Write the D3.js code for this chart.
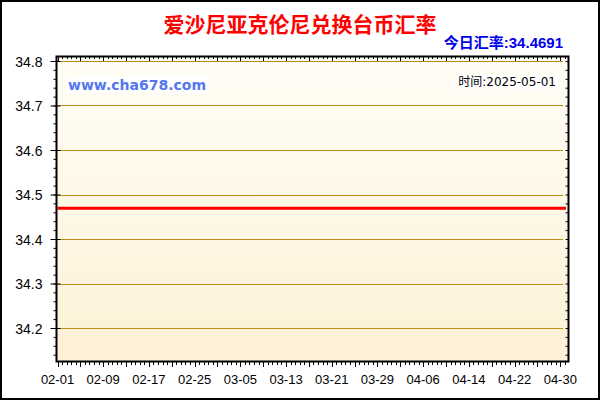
<!DOCTYPE html>
<html>
  <head>
    <meta charset="utf-8">
    <title>爱沙尼亚克伦尼兑换台币汇率</title>
    <script src="https://d3js.org/d3.v7.min.js"></script>
    <style type="text/css">
      body { margin: 0; background: #fff; }
    </style>
  </head>
  <body>
    <script>
        // Chart data: one rate per day, 02-01 .. 05-01
        var startDay = "2025-02-01";
        var rates = [
            34.4691, 34.4691, 34.4691, 34.4691, 34.4691, 34.4691, 34.4691, 34.4691, 34.4691, 34.4691,
            34.4691, 34.4691, 34.4691, 34.4691, 34.4691, 34.4691, 34.4691, 34.4691, 34.4691, 34.4691,
            34.4691, 34.4691, 34.4691, 34.4691, 34.4691, 34.4691, 34.4691, 34.4691, 34.4691, 34.4691,
            34.4691, 34.4691, 34.4691, 34.4691, 34.4691, 34.4691, 34.4691, 34.4691, 34.4691, 34.4691,
            34.4691, 34.4691, 34.4691, 34.4691, 34.4691, 34.4691, 34.4691, 34.4691, 34.4691, 34.4691,
            34.4691, 34.4691, 34.4691, 34.4691, 34.4691, 34.4691, 34.4691, 34.4691, 34.4691, 34.4691,
            34.4691, 34.4691, 34.4691, 34.4691, 34.4691, 34.4691, 34.4691, 34.4691, 34.4691, 34.4691,
            34.4691, 34.4691, 34.4691, 34.4691, 34.4691, 34.4691, 34.4691, 34.4691, 34.4691, 34.4691,
            34.4691, 34.4691, 34.4691, 34.4691, 34.4691, 34.4691, 34.4691, 34.4691, 34.4691, 34.4691
        ];
        var yTickValues = [34.2, 34.3, 34.4, 34.5, 34.6, 34.7, 34.8];
        var xTickLabels = ["02-01", "02-09", "02-17", "02-25", "03-05", "03-13",
                           "03-21", "03-29", "04-06", "04-14", "04-22", "04-30"];
        var titleText = "爱沙尼亚克伦尼兑换台币汇率";
        var todayText = "今日汇率:34.4691";
        var siteText = "www.cha678.com";
        var timeText = "时间:2025-05-01";

        // Layout
        var svgWidth = 600;
        var svgHeight = 400;
        var plotLeft = 56;
        var plotRight = 568;
        var plotTop = 56;
        var plotBottom = 361;
        var dayMs = 24 * 3600 * 1000;
        var sansFont = "'Liberation Sans', Arial, sans-serif";

        var parseDay = d3.timeParse("%Y-%m-%d");
        var firstDay = parseDay(startDay);
        var data = rates.map(function(r, i) {
            return {date: new Date(firstDay.getTime() + i * dayMs), value: r};
        });

        var svg = d3.select("body")
                    .append("svg")
                    .attr("width", svgWidth)
                    .attr("height", svgHeight);

        var xScale = d3.scaleTime()
                       .domain([data[0].date, data[data.length - 1].date])
                       .range([57.5, 566]);

        var yScale = d3.scaleLinear()
                       .domain([34.2, 34.8])
                       .range([328, 61]);

        // Plot background
        var grad = svg.append("defs").append("linearGradient")
                      .attr("id", "bg")
                      .attr("x1", 0).attr("y1", 0).attr("x2", 0).attr("y2", 1);
        grad.append("stop").attr("offset", "0%").attr("stop-color", "#fffef6");
        grad.append("stop").attr("offset", "100%").attr("stop-color", "#fdf1d6");

        svg.append("rect")
           .attr("x", plotLeft)
           .attr("y", plotTop)
           .attr("width", plotRight - plotLeft)
           .attr("height", plotBottom - plotTop)
           .attr("fill", "url(#bg)");

        // Grid lines
        svg.selectAll(".grid")
           .data(yTickValues)
           .enter()
           .append("line")
           .attr("class", "grid")
           .attr("x1", plotLeft + 1)
           .attr("x2", plotRight - 5)
           .attr("y1", function(d) { return Math.round(yScale(d)) + 0.5; })
           .attr("y2", function(d) { return Math.round(yScale(d)) + 0.5; })
           .attr("stroke", "#bf8e18")
           .attr("stroke-width", 1);

        // Rate line
        var line = d3.line()
                     .x(function(d) { return xScale(d.date); })
                     .y(function(d) { return yScale(d.value); });

        svg.append("path")
           .datum(data)
           .attr("d", line)
           .attr("fill", "none")
           .attr("stroke", "#ff0000")
           .attr("stroke-width", 3);

        // Tick positions
        var yMinor = d3.range(34.14, 34.81, 0.02);
        var xMajorDays = d3.range(0, 89, 4);
        var xMinorDays = d3.range(0, 89.5, 0.8);
        var dayX = function(n) { return xScale(new Date(firstDay.getTime() + n * dayMs)); };

        // Left axis
        var leftMinor = d3.axisLeft(yScale).tickValues(yMinor).tickSize(3).tickFormat("");
        svg.append("g")
           .attr("transform", "translate(" + (plotLeft + 0.5) + ",0)")
           .call(leftMinor)
           .call(function(g) { g.select(".domain").remove(); });

        var leftAxis = d3.axisLeft(yScale)
                         .tickValues(yTickValues)
                         .tickSize(6)
                         .tickPadding(8)
                         .tickFormat(d3.format(".1f"));
        var leftG = svg.append("g")
           .attr("transform", "translate(" + (plotLeft + 0.5) + ",0)")
           .call(leftAxis);
        leftG.select(".domain").remove();
        leftG.selectAll(".tick line").attr("x2", -6).attr("x1", 4);
        leftG.selectAll(".tick text")
             .style("font-size", "14px")
             .style("font-family", sansFont)
             .attr("fill", "#000")
             .attr("dy", "0.36em");

        // Right axis (inner ticks)
        var rightAxis = d3.axisLeft(yScale).tickValues(yMinor).tickSize(3).tickFormat("");
        svg.append("g")
           .attr("transform", "translate(" + (plotRight + 0.5) + ",0)")
           .call(rightAxis)
           .call(function(g) { g.select(".domain").remove(); });

        // Bottom axis
        svg.selectAll(".xminor")
           .data(xMinorDays)
           .enter()
           .append("line")
           .attr("class", "xminor")
           .attr("x1", function(d) { return Math.round(dayX(d)) + 0.5; })
           .attr("x2", function(d) { return Math.round(dayX(d)) + 0.5; })
           .attr("y1", plotBottom)
           .attr("y2", plotBottom + 4)
           .attr("stroke", "#000");

        svg.selectAll(".xmajor")
           .data(xMajorDays)
           .enter()
           .append("line")
           .attr("class", "xmajor")
           .attr("x1", function(d) { return Math.round(dayX(d)) + 0.5; })
           .attr("x2", function(d) { return Math.round(dayX(d)) + 0.5; })
           .attr("y1", plotBottom)
           .attr("y2", plotBottom + 6)
           .attr("stroke", "#000");

        svg.selectAll(".xlabel")
           .data(xTickLabels)
           .enter()
           .append("text")
           .attr("class", "xlabel")
           .attr("x", function(d, i) { return dayX(i * 8); })
           .attr("y", 384)
           .attr("text-anchor", "middle")
           .style("font-family", sansFont)
           .style("font-size", "13px")
           .attr("fill", "#000")
           .text(function(d) { return d; });

        // Top axis (inner ticks)
        svg.selectAll(".tminor")
           .data(xMinorDays)
           .enter()
           .append("line")
           .attr("class", "tminor")
           .attr("x1", function(d) { return Math.round(dayX(d)) + 0.5; })
           .attr("x2", function(d) { return Math.round(dayX(d)) + 0.5; })
           .attr("y1", plotTop)
           .attr("y2", plotTop + 3)
           .attr("stroke", "#000");

        svg.selectAll(".tmajor")
           .data(xMajorDays)
           .enter()
           .append("line")
           .attr("class", "tmajor")
           .attr("x1", function(d) { return Math.round(dayX(d)) + 0.5; })
           .attr("x2", function(d) { return Math.round(dayX(d)) + 0.5; })
           .attr("y1", plotTop)
           .attr("y2", plotTop + 5)
           .attr("stroke", "#000");

        // Plot frame
        svg.append("rect")
           .attr("x", plotLeft + 0.5)
           .attr("y", plotTop + 0.5)
           .attr("width", plotRight - plotLeft)
           .attr("height", plotBottom - plotTop)
           .attr("fill", "none")
           .attr("stroke", "#000")
           .attr("stroke-width", 2);

        // Outer border
        svg.append("rect")
           .attr("x", 1)
           .attr("y", 1)
           .attr("width", svgWidth - 2)
           .attr("height", svgHeight - 2)
           .attr("fill", "none")
           .attr("stroke", "#000")
           .attr("stroke-width", 2);

        // Title
        svg.append("text")
           .attr("x", 300)
           .attr("y", 32)
           .attr("text-anchor", "middle")
           .style("font-family", "'Noto Sans CJK SC', sans-serif")
           .style("font-weight", "bold")
           .style("font-size", "21px")
           .attr("fill", "#ff0000")
           .text(titleText);

        svg.append("text")
           .attr("x", 563)
           .attr("y", 48)
           .attr("text-anchor", "end")
           .style("font-family", "'Liberation Sans', 'Noto Sans CJK SC', sans-serif")
           .style("font-weight", "bold")
           .style("font-size", "15px")
           .attr("fill", "#0000ee")
           .text(todayText);

        // Watermark labels with white boxes
        function boxedText(x, y, anchor, font, size, weight, color, str) {
            var g = svg.append("g");
            var box = g.append("rect").attr("fill", "#fff");
            var t = g.append("text")
                     .attr("x", x)
                     .attr("y", y)
                     .attr("text-anchor", anchor)
                     .style("font-family", font)
                     .style("font-size", size)
                     .style("font-weight", weight)
                     .attr("fill", color)
                     .text(str);
            var bb = t.node().getBBox();
            box.attr("x", bb.x - 2).attr("y", bb.y)
               .attr("width", bb.width + 4).attr("height", bb.height);
        }

        boxedText(68, 90, "start", "'DejaVu Sans', sans-serif", "14px", "bold", "#5577ee", siteText);
        boxedText(556, 86, "end", "'DejaVu Sans', 'Noto Sans CJK SC', sans-serif", "12px", "normal", "#000", timeText);

    </script>
  </body>
</html>
